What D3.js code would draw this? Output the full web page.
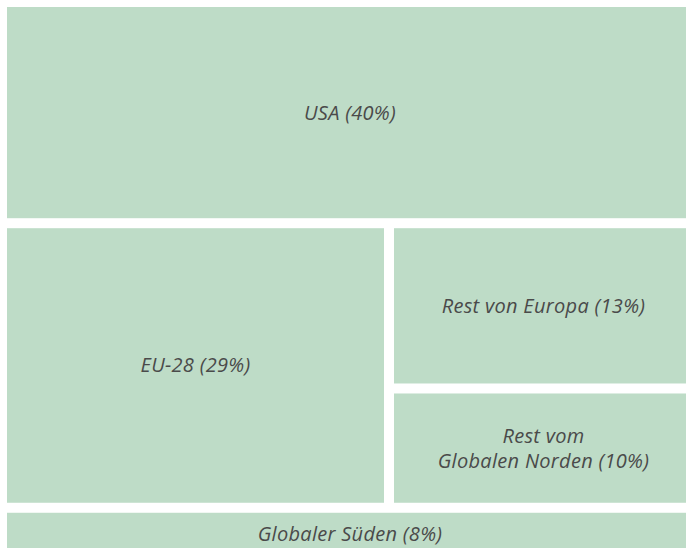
<!DOCTYPE html>
<html>
<head>
<meta charset="utf-8">
<title>Treemap</title>
<script src="https://cdn.jsdelivr.net/npm/d3@7"></script>
<style>
  body { margin: 0; background: #fff; }
  text { font-family: "Open Sans", "Noto Sans", sans-serif; font-style: italic; fill: #4a4a4a; letter-spacing: 0.3px; }
</style>
</head>
<body>
<svg width="686" height="548"></svg>
<script>
// regions, their block in the layout and their share
var names  = ["USA", "EU-28", "Rest von Europa", "Rest vom\nGlobalen Norden", "Globaler Süden"]
var groups = ["top", "mid-left", "mid-right", "mid-right", "bottom"]
var shares = [40, 29, 13, 10, 8]          // printed percent
var areas  = [40, 29, 13.5, 9.5, 8]       // area

var width = 686, height = 548, gap = 10

// nest: top | (left | right stack) | bottom
var root = { name: "root", children: [] }
var byKey = {}
names.forEach(function (n, i) {
  var g = groups[i], parent = root
  if (g.indexOf("mid") == 0) {
    if (!byKey.mid) root.children.push(byKey.mid = { name: "mid", children: [] })
    parent = byKey.mid
    if (g == "mid-right") {
      if (!byKey.right) parent.children.push(byKey.right = { name: "right", children: [] })
      parent = byKey.right
    }
  }
  parent.children.push({ name: n, share: shares[i], value: areas[i] })
})

var h = d3.hierarchy(root).sum(function (d) { return d.value || 0 })

// slice / dice alternating, gaps taken out before splitting
function tile(node, x0, y0, x1, y1) {
  var n = node.children.length, off = gap * (n - 1)
  if (node.depth % 2) {
    d3.treemapDice(node, x0, y0, x1 - off, y1)
    node.children.forEach(function (c, i) { c.x0 += i * gap; c.x1 += i * gap })
  } else {
    d3.treemapSlice(node, x0, y0, x1, y1 - off)
    node.children.forEach(function (c, i) { c.y0 += i * gap; c.y1 += i * gap })
  }
}

d3.treemap().size([width, height]).tile(tile)(h)

var svg = d3.select("svg")
var g = svg.append("g").attr("transform", "translate(7,7)")

var cell = g.selectAll("g.cell").data(h.leaves())
  .enter().append("g").attr("class", "cell")

cell.append("rect")
  .attr("x", function (d) { return d.x0 })
  .attr("y", function (d) { return d.y0 })
  .attr("width", function (d) { return d.x1 - d.x0 })
  .attr("height", function (d) { return d.y1 - d.y0 })
  .attr("fill", "#bedcc7")

var lineH = 25
cell.append("text")
  .attr("text-anchor", "middle")
  .style("font-size", "20px")
  .each(function (d) {
    var lines = (d.data.name + " (" + d.data.share + "%)").split("\n")
    var cx = (d.x0 + d.x1) / 2
    var cy = (d.y0 + d.y1) / 2
    var t = d3.select(this)
    lines.forEach(function (l, i) {
      t.append("tspan")
        .attr("x", cx)
        .attr("y", cy + (i - (lines.length - 1) / 2) * lineH)
        .attr("dy", "0.35em")
        .text(l)
    })
  })
</script>
</body>
</html>
